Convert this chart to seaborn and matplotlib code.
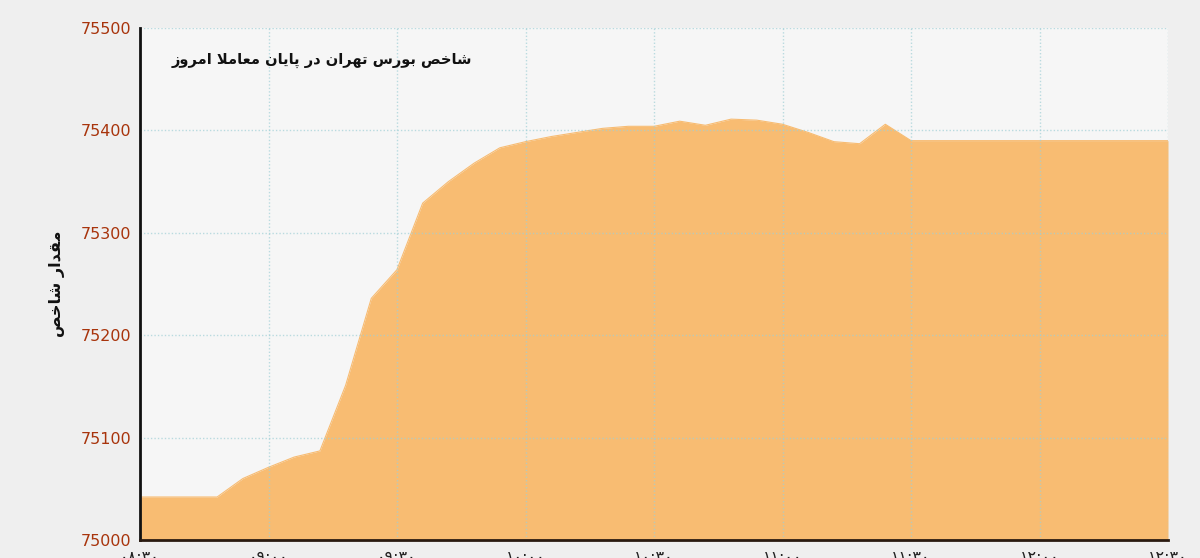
import matplotlib
matplotlib.use("Agg")
import matplotlib.pyplot as plt
import seaborn as sns
import pandas as pd

# Index values (one point every 1/5 of a grid step)
index_values = [75042, 75042, 75042, 75042, 75060, 75071, 75081, 75087, 75151,
                75236, 75264, 75329, 75350, 75368, 75383, 75389, 75394, 75398,
                75402, 75404, 75404, 75409, 75405, 75411, 75410, 75406, 75398,
                75389, 75387, 75406, 75390, 75390, 75390, 75390, 75390, 75390,
                75390, 75390, 75390, 75390, 75390]
time_labels = ["۰۸:۳۰", "۰۹:۰۰", "۰۹:۳۰", "۱۰:۰۰", "۱۰:۳۰",
               "۱۱:۰۰", "۱۱:۳۰", "۱۲:۰۰", "۱۲:۳۰"]
y_ticks = [75000, 75100, 75200, 75300, 75400, 75500]
title_text = "شاخص بورس تهران در پایان معاملا امروز"
ylabel_text = "مقدار شاخص"

# Simple Persian shaping: pick presentation forms, then reverse (matplotlib is LTR only)
FORMS = {
    "ا": ("\uFE8D", "\uFE8E", None, None),
    "ب": ("\uFE8F", "\uFE90", "\uFE91", "\uFE92"),
    "ت": ("\uFE95", "\uFE96", "\uFE97", "\uFE98"),
    "خ": ("\uFEA5", "\uFEA6", "\uFEA7", "\uFEA8"),
    "د": ("\uFEA9", "\uFEAA", None, None),
    "ر": ("\uFEAD", "\uFEAE", None, None),
    "ز": ("\uFEAF", "\uFEB0", None, None),
    "س": ("\uFEB1", "\uFEB2", "\uFEB3", "\uFEB4"),
    "ش": ("\uFEB5", "\uFEB6", "\uFEB7", "\uFEB8"),
    "ص": ("\uFEB9", "\uFEBA", "\uFEBB", "\uFEBC"),
    "ع": ("\uFEC9", "\uFECA", "\uFECB", "\uFECC"),
    "ق": ("\uFED5", "\uFED6", "\uFED7", "\uFED8"),
    "ل": ("\uFEDD", "\uFEDE", "\uFEDF", "\uFEE0"),
    "م": ("\uFEE1", "\uFEE2", "\uFEE3", "\uFEE4"),
    "ن": ("\uFEE5", "\uFEE6", "\uFEE7", "\uFEE8"),
    "ه": ("\uFEE9", "\uFEEA", "\uFEEB", "\uFEEC"),
    "و": ("\uFEED", "\uFEEE", None, None),
    "پ": ("\uFB56", "\uFB57", "\uFB58", "\uFB59"),
    "ی": ("\uFBFC", "\uFBFD", "\uFBFE", "\uFBFF"),
}


def dual(ch):
    return ch in FORMS and FORMS[ch][2] is not None


def shape_fa(text):
    out = []
    i = 0
    while i < len(text):
        ch = text[i]
        if ch not in FORMS:
            out.append(ch)
            i += 1
            continue
        prev_join = i > 0 and dual(text[i - 1])
        nxt = text[i + 1] if i + 1 < len(text) else ""
        if ch == "ل" and nxt == "ا":
            out.append("\uFEFC" if prev_join else "\uFEFB")
            i += 2
            continue
        next_join = dual(ch) and nxt in FORMS
        iso, fin, ini, med = FORMS[ch]
        if prev_join and next_join:
            out.append(med)
        elif prev_join:
            out.append(fin)
        elif next_join:
            out.append(ini)
        else:
            out.append(iso)
        i += 1
    return "".join(out)[::-1]


df = pd.DataFrame({"step": range(len(index_values)), "value": index_values})

sns.set_style("white")
plt.rcParams["font.family"] = ["DejaVu Sans"]

fig = plt.figure(figsize=(12, 5.58), dpi=100, facecolor="#efefef")
ax = fig.add_axes([140 / 1200, 18 / 558, 1028 / 1200, 512 / 558])
ax.set_facecolor("#f6f6f6")

ax.fill_between(df["step"], 75000, df["value"], color="#f8bc72", linewidth=0, zorder=1)
sns.lineplot(data=df, x="step", y="value", ax=ax, color="#f8bc72", linewidth=0.8, zorder=2)

ax.set_xlim(0, 40)
ax.set_ylim(75000, 75500)
ax.set_yticks(y_ticks)
ax.set_yticklabels([str(v) for v in y_ticks], color="#a8340c", fontsize=11.5)
ax.set_xticks(range(0, 41, 5))
ax.set_xticklabels(time_labels, fontsize=11.5, color="#222222")
ax.tick_params(axis="both", length=0)
ax.tick_params(axis="y", pad=6)
ax.tick_params(axis="x", pad=7)

ax.grid(True, color="#9fcfd6", linestyle=(0, (1, 1.5)), linewidth=1, alpha=0.7)
ax.set_axisbelow(False)
for line in ax.get_xgridlines() + ax.get_ygridlines():
    line.set_zorder(3)

for side in ["top", "right"]:
    ax.spines[side].set_visible(False)
ax.spines["left"].set_color("#111111")
ax.spines["left"].set_linewidth(2)
ax.spines["bottom"].set_color("#2a1a10")
ax.spines["bottom"].set_linewidth(2)
ax.spines["left"].set_zorder(4)
ax.spines["bottom"].set_zorder(4)

ax.set_xlabel("")
ax.set_ylabel("")

fig.text(472 / 1200, 1 - 60 / 558, shape_fa(title_text), ha="right", va="center",
         fontsize=10.5, fontweight="bold", color="#111111")
fig.text(57 / 1200, 1 - 284 / 558, shape_fa(ylabel_text), ha="center", va="center",
         rotation=90, fontsize=11.5, fontweight="bold", color="#111111")

fig.savefig("out.png", dpi=100, facecolor=fig.get_facecolor())
